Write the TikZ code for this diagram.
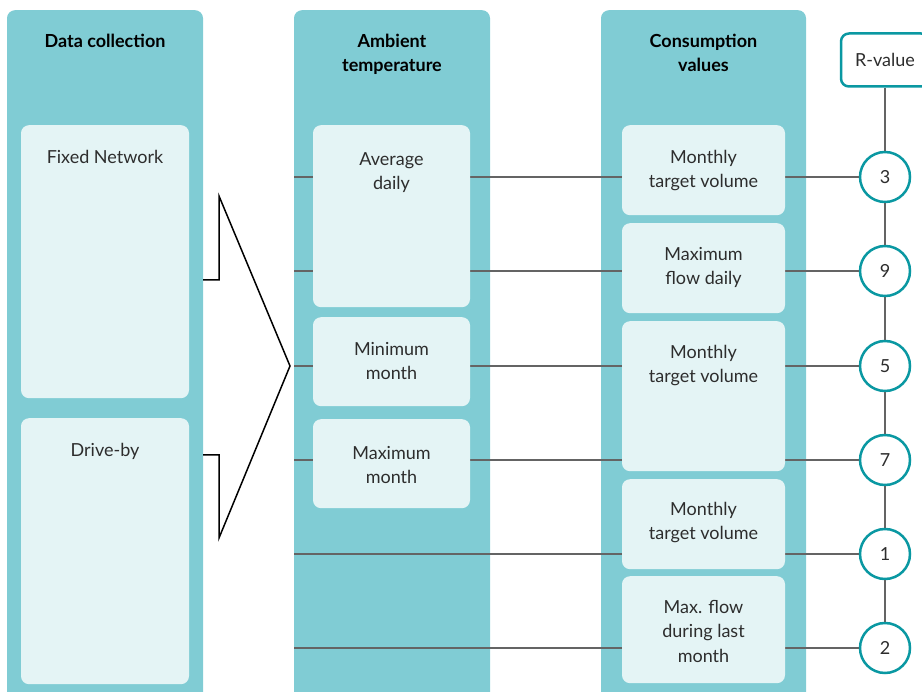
\documentclass[tikz,border=0pt]{standalone}
\usepackage{fontspec}
\setmainfont{Lato}
\usepackage{tikz}
\usepackage{xcolor}

\definecolor{colbg}{RGB}{128,204,212}
\definecolor{cellbg}{RGB}{228,244,245}
\definecolor{ringcol}{RGB}{10,152,162}
\definecolor{linkcol}{RGB}{100,100,100}
\definecolor{txtcol}{RGB}{45,45,45}

\tikzset{
  colbox/.style={fill=colbg, rounded corners=8, anchor=north, minimum width=#1, minimum height=700, inner sep=0},
  cell/.style={fill=cellbg, rounded corners=8, anchor=north, inner sep=0},
  celltxt/.style={anchor=north, inner sep=0, align=center, text=txtcol, font=\fontsize{18}{24.5}\selectfont},
  headtxt/.style={anchor=north, inner sep=0, align=center, font=\fontsize{18}{24}\selectfont\bfseries},
  rnode/.style={circle, draw=ringcol, fill=white, line width=2.5, minimum size=50, inner sep=0, text=txtcol, font=\fontsize{18}{18}\selectfont},
  link/.style={draw=linkcol, line width=2.5}
}

\begin{document}
\begin{tikzpicture}[x=1pt,y=1pt,yscale=-1,xscale=1]
\clip (0,0) rectangle (922,692);

%Shape: Columns
\node [colbox=196] (datacol) at (105,10) {};
\node [colbox=196] (tempcol) at (392,10) {};
\node [colbox=205] (conscol) at (703.5,10) {};

% Text Node
\node [headtxt] (datahead) at (105,34) {Data collection};
% Text Node
\node [headtxt] (temphead) at (392,34) {Ambient\\temperature};
% Text Node
\node [headtxt] (conshead) at (703.5,34) {Consumption\\values};

%Shape: R-value box and rings
\node [draw=ringcol, fill=white, line width=2.5, rounded corners=8, minimum width=88, minimum height=53, text=txtcol, font=\fontsize{18}{18}\selectfont] (rval) at (885,60) {R-value};
\node [rnode] (r3) at (885,177) {3};
\node [rnode] (r9) at (885,271) {9};
\node [rnode] (r5) at (885,366) {5};
\node [rnode] (r7) at (885,460) {7};
\node [rnode] (r1) at (885,554) {1};
\node [rnode] (r2) at (885,648) {2};

%Straight Lines
\coordinate (s3) at (294,177);
\coordinate (s9) at (294,271);
\coordinate (s5) at (294,366);
\coordinate (s7) at (294,460);
\coordinate (s1) at (294,554);
\coordinate (s2) at (294,648);
\foreach \r in {3,9,5,7,1,2}
  \draw [link] (s\r) -- (r\r);
\draw [link] (rval) -- (r3) -- (r9) -- (r5) -- (r7) -- (r1) -- (r2);

%Shape: Data collection cells
\node [cell, minimum width=168, minimum height=273] (fixnet) at (105,125) {};
\node [celltxt] at (105,150) {Fixed Network};
\node [cell, minimum width=168, minimum height=266] (driveby) at (105,418) {};
\node [celltxt] at (105,443) {Drive-by};

%Shape: Ambient temperature cells
\node [cell, minimum width=157, minimum height=182] (avgday) at (391.5,125) {};
\node [celltxt] at (391.5,152) {Average\\daily};
\node [cell, minimum width=157, minimum height=89] (minmon) at (391.5,317) {};
\node [celltxt] at (391.5,342) {Minimum\\month};
\node [cell, minimum width=157, minimum height=89] (maxmon) at (391.5,419) {};
\node [celltxt] at (391.5,446) {Maximum\\month};

%Shape: Consumption values cells
\node [cell, minimum width=163, minimum height=90] (mtv1) at (703.5,125) {};
\node [celltxt] at (703.5,150) {Monthly\\target volume};
\node [cell, minimum width=163, minimum height=90] (maxflow) at (703.5,223) {};
\node [celltxt] at (703.5,247) {Maximum\\flow daily};
\node [cell, minimum width=163, minimum height=150] (mtv2) at (703.5,321) {};
\node [celltxt] at (703.5,345) {Monthly\\target volume};
\node [cell, minimum width=163, minimum height=90] (mtv3) at (703.5,479) {};
\node [celltxt] at (703.5,502) {Monthly\\target volume};
\node [cell, minimum width=163, minimum height=107] (lastmon) at (703.5,576) {};
\node [celltxt] at (703.5,600) {Max. flow\\during last\\month};

%Shape: Bracket
\draw [line width=1.5, line join=miter] (datacol.east |- 0,280) -- (219,280) -- (219,196) -- (290,366) -- (219,538) -- (219,455) -- (datacol.east |- 0,455);
\end{tikzpicture}
\end{document}
